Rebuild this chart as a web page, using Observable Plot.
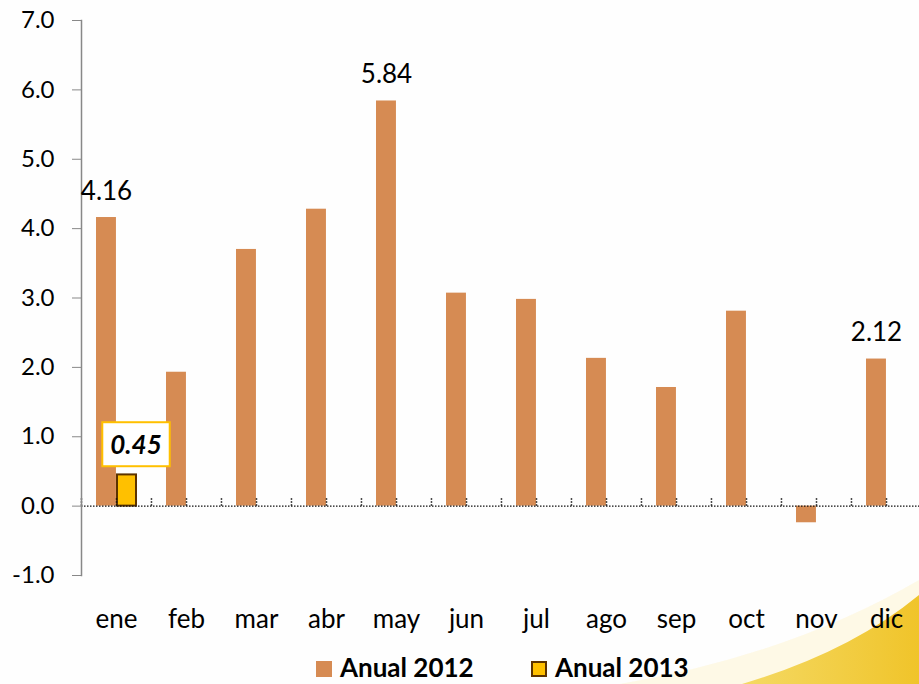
<!DOCTYPE html>
<html>
<head>
<meta charset="utf-8">
<script src="https://cdn.jsdelivr.net/npm/d3@7"></script>
<script src="https://cdn.jsdelivr.net/npm/@observablehq/plot@0.6"></script>
<style>
  html, body { margin: 0; padding: 0; background: #fefefe; width: 919px; height: 684px; overflow: hidden; }
  #bg { position: absolute; left: 0; top: 0; z-index: 0; }
  #chart { position: relative; z-index: 1; }
  #legend { position: relative; z-index: 1; height: 34px; font-family: Lato, sans-serif; font-weight: bold; font-size: 26px; color: #000; }
  .item { position: absolute; top: 5px; display: flex; align-items: center; gap: 8px; line-height: 24px; height: 24px; }
  .sw { width: 16px; height: 16px; box-sizing: border-box; margin-top: 4px; }
</style>
</head>
<body>
<svg id="bg" width="919" height="684">
  <defs>
    <linearGradient id="gsw" x1="640" y1="0" x2="919" y2="0" gradientUnits="userSpaceOnUse">
      <stop offset="0" stop-color="#fbf0c0" stop-opacity="0"/>
      <stop offset="0.35" stop-color="#f4d85e" stop-opacity="0.95"/>
      <stop offset="1" stop-color="#f0c42a"/>
    </linearGradient>
  </defs>
  <path d="M 620 684 Q 790 655 919 580 L 919 684 Z" fill="#fdf6dc" opacity="0.7"/>
  <path d="M 742 684 Q 850 652 919 595 L 919 684 Z" fill="url(#gsw)"/>
</svg>
<div id="chart"></div>
<div id="legend"></div>
<script>
const months = ["ene","feb","mar","abr","may","jun","jul","ago","sep","oct","nov","dic"];
const values2012 = [4.16, 1.93, 3.70, 4.28, 5.84, 3.07, 2.98, 2.13, 1.71, 2.81, -0.24, 2.12];
const months2013 = ["ene"];
const values2013 = [0.45];
const labeledMonths2012 = ["ene","may","dic"];
const yTicks = [-1, 0, 1, 2, 3, 4, 5, 6, 7];
const seriesNames = ["Anual 2012", "Anual 2013"];
const colors = {"Anual 2012": "#d68b53", "Anual 2013": "#ffc000"};

const data2012 = months.map((m, i) => ({month: m, value: values2012[i]}));
const data2013 = months2013.map((m, i) => ({month: m, value: values2013[i]}));

const W = 919, H = 650, left = 81;
const xRange = [left, left + 12 * 70.06];
const half = 70.06 / 2;

const plot = Plot.plot({
  width: W, height: H,
  marginLeft: left, marginRight: 0, marginTop: 20, marginBottom: 75,
  style: {fontFamily: "Lato, sans-serif", fontSize: "26px", background: "transparent", overflow: "visible", color: "#000"},
  x: {domain: months, range: xRange, padding: 0},
  y: {domain: [-1, 7]},
  marks: [
    Plot.barY(data2012, {x: "month", y: "value", fill: colors["Anual 2012"], insetLeft: 15, insetRight: 35.06}),
    Plot.barY(data2013, {x: "month", y: "value", fill: colors["Anual 2013"], stroke: "#5c3300", strokeWidth: 2, insetLeft: 36, insetRight: 15}),
    Plot.ruleX(months, {x: d => d, y1: 0, y2: 0.12, dx: -half, stroke: "#111", strokeWidth: 1.5, strokeDasharray: "1.5,1.5"}),
    Plot.ruleX(months, {x: d => d, y1: 0, y2: 0.12, stroke: "#111", strokeWidth: 1.5, strokeDasharray: "1.5,1.5"}),
    Plot.ruleY([0], {stroke: "#111", strokeWidth: 1.4, strokeDasharray: "1.5,1.5"}),
    Plot.frame({anchor: "left", stroke: "#888", strokeWidth: 1.5}),
    Plot.axisY({ticks: yTicks, tickFormat: d => d.toFixed(1), tickSize: 9, tickPadding: 18, stroke: "#888", fill: "#000", label: null, fontSize: 24}),
    Plot.axisX({tickSize: 0, tickPadding: 34, label: null, fill: "#000", fontSize: 26}),
    Plot.text(data2012.filter(d => labeledMonths2012.includes(d.month)), {
      x: "month", y: "value", text: d => d.value.toFixed(2), dx: -10, dy: -18, lineAnchor: "bottom", fill: "#000", fontSize: 26
    }),
    Plot.text(data2013, {
      x: "month", y: "value", text: d => d.value.toFixed(2), dx: 19.5, dy: -29, lineAnchor: "middle",
      fontWeight: "bold", fontStyle: "italic", fill: "#000", fontSize: 26,
      render(index, scales, values, dimensions, context, next) {
        const g = next(index, scales, values, dimensions, context);
        g.classList.add("lbl2013");
        return g;
      }
    })
  ]
});
document.getElementById("chart").append(plot);

// white box with yellow border behind the 2013 label
document.querySelectorAll(".lbl2013 text").forEach(t => {
  const b = t.getBBox();
  const padX = 8, boxH = 44;
  const r = document.createElementNS("http://www.w3.org/2000/svg", "rect");
  r.setAttribute("x", b.x - padX);
  r.setAttribute("y", b.y + b.height / 2 - boxH / 2);
  r.setAttribute("width", b.width + 2 * padX);
  r.setAttribute("height", boxH);
  r.setAttribute("fill", "#fff");
  r.setAttribute("stroke", "#ffc000");
  r.setAttribute("stroke-width", "2");
  if (t.getAttribute("transform")) r.setAttribute("transform", t.getAttribute("transform"));
  t.parentNode.insertBefore(r, t);
});

// legend
const legend = document.getElementById("legend");
const legendX = [316, 531];
seriesNames.forEach((s, i) => {
  const it = document.createElement("div");
  it.className = "item";
  it.style.left = legendX[i] + "px";
  const sw = document.createElement("div");
  sw.className = "sw";
  sw.style.background = colors[s];
  if (i === 1) sw.style.border = "2px solid #5c3300";
  const tx = document.createElement("span");
  tx.textContent = s;
  it.append(sw, tx);
  legend.append(it);
});
</script>
</body>
</html>
